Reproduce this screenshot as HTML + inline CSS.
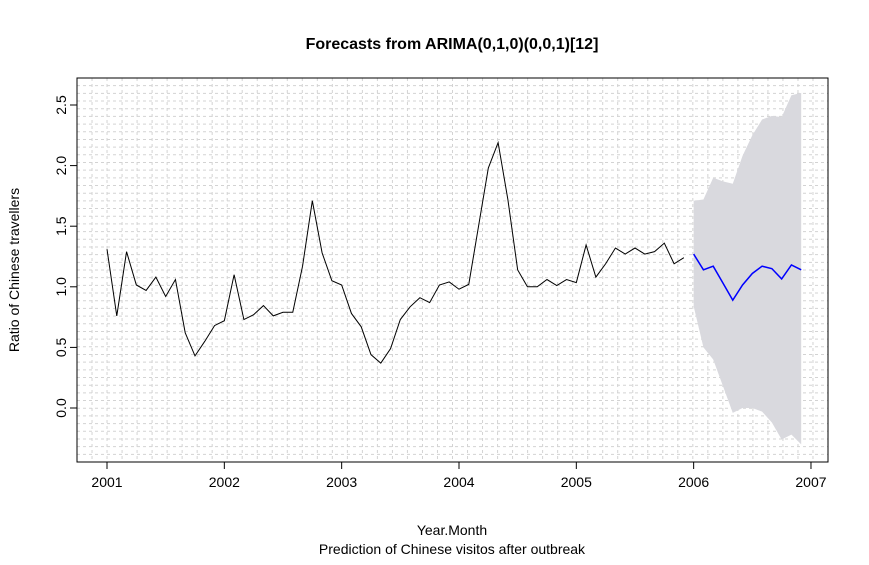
<!DOCTYPE html>
<html><head><meta charset="utf-8"><style>
body{margin:0;background:#fff}
svg{font-family:"Liberation Sans",Arial,sans-serif}
</style></head><body>
<svg id="c" width="869" height="560" xmlns="http://www.w3.org/2000/svg">
<rect width="869" height="560" fill="#fff"/>
<text x="452" y="49" text-anchor="middle" font-size="16" font-weight="bold">Forecasts from ARIMA(0,1,0)(0,0,1)[12]</text>
<text x="452" y="535" text-anchor="middle" font-size="14">Year.Month</text>
<text x="452" y="554" text-anchor="middle" font-size="14">Prediction of Chinese visitos after outbreak</text>
<text transform="translate(19,270) rotate(-90)" text-anchor="middle" font-size="14">Ratio of Chinese travellers</text>
<g id="grid"></g>
<g id="marks"></g>
<rect x="77" y="78" width="751" height="384" fill="none" stroke="#000" stroke-width="1"/>
<g id="axes"></g>
</svg>
<script>
const startYear = 2001;
const history = [1.31,0.76,1.29,1.015,0.97,1.08,0.92,1.06,0.62,0.43,0.55,0.68,
0.72,1.10,0.73,0.77,0.845,0.76,0.79,0.79,1.17,1.71,1.28,1.05,
1.015,0.78,0.67,0.44,0.37,0.49,0.73,0.835,0.91,0.87,1.015,1.04,
0.98,1.02,1.50,1.98,2.19,1.72,1.14,1.0,1.0,1.06,1.01,1.06,
1.035,1.345,1.08,1.19,1.32,1.27,1.32,1.27,1.29,1.36,1.19,1.24];
const forecast = [1.27,1.14,1.17,1.03,0.89,1.015,1.11,1.17,1.15,1.065,1.18,1.14];
const upper95 = [1.71,1.72,1.90,1.87,1.85,2.08,2.25,2.38,2.41,2.40,2.58,2.60];
const lower95 = [0.84,0.50,0.40,0.18,-0.04,0.0,0.0,-0.03,-0.12,-0.26,-0.22,-0.30];
const xTicks = [2001,2002,2003,2004,2005,2006,2007];
const yTicks = [0.0,0.5,1.0,1.5,2.0,2.5];

const NS="http://www.w3.org/2000/svg";
const X = t => 107 + (t-2001)*117.33;
const Y = v => 408 - v*121.2;
function mk(tag, attrs, parent){const e=document.createElementNS(NS,tag);for(const k in attrs)e.setAttribute(k,attrs[k]);parent.appendChild(e);return e;}
const grid=document.getElementById('grid'), marks=document.getElementById('marks'), axes=document.getElementById('axes');
for(let k=1;k<50;k++){
  const gx=77+k*751/50, gy=78+k*384/50;
  const a=mk('line',{x1:gx,x2:gx,y1:78,y2:462,stroke:'#d3d3d3','stroke-dasharray':'3,3','stroke-width':1},grid);
  
  
  const b=mk('line',{x1:77,x2:828,y1:gy,y2:gy,stroke:'#d3d3d3','stroke-dasharray':'3,3','stroke-width':1},grid);
  
  
}
const fStart = startYear + history.length/12;
let band='';
upper95.forEach((v,i)=>{band+=(i?'L':'M')+X(fStart+i/12)+','+Y(v);});
for(let i=lower95.length-1;i>=0;i--) band+='L'+X(fStart+i/12)+','+Y(lower95[i]);
const bp=mk('path',{d:band+'Z',fill:'#d9d9de',stroke:'none'},marks);


const hl=mk('polyline',{points:history.map((v,i)=>X(startYear+i/12)+','+Y(v)).join(' '),fill:'none',stroke:'#000','stroke-width':1},marks);


const fl=mk('polyline',{points:forecast.map((v,i)=>X(fStart+i/12)+','+Y(v)).join(' '),fill:'none',stroke:'#0000ff','stroke-width':1.5},marks);


xTicks.forEach(t=>{
  const l=mk('line',{x1:X(t),x2:X(t),y1:462,y2:469,stroke:'#000'},axes);
  
  
  const tx=mk('text',{x:X(t),y:487,'text-anchor':'middle','font-size':14},axes);
  tx.textContent=t;
  
  
});
yTicks.forEach(v=>{
  const l=mk('line',{x1:70,x2:77,y1:Y(v),y2:Y(v),stroke:'#000'},axes);
  
  
  const tx=mk('text',{transform:`translate(66,${Y(v)}) rotate(-90)`,'text-anchor':'middle','font-size':14},axes);
  tx.textContent=v.toFixed(1);
  
  
});
</script>
</body></html>
